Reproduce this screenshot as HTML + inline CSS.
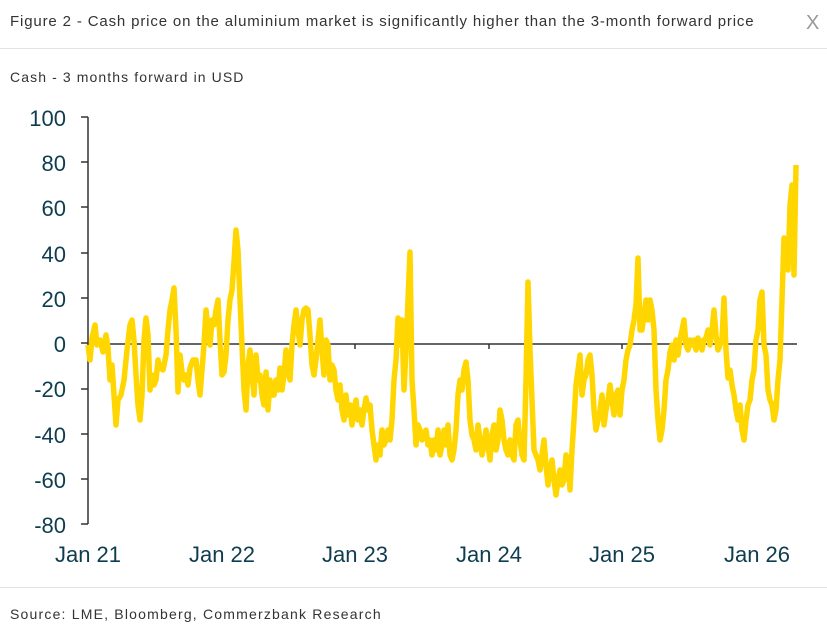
<!DOCTYPE html>
<html><head><meta charset="utf-8"><style>
body{margin:0;width:827px;height:640px;background:#fff;font-family:"Liberation Sans",sans-serif;overflow:hidden;position:relative}
.t{position:absolute;left:10px;top:13px;font-size:15px;color:#333;letter-spacing:0.85px}
.x{position:absolute;left:806px;top:12px;font-size:20px;color:#999}
.h1{position:absolute;left:0;top:48px;width:827px;height:1px;background:#e3e3e3}
.h2{position:absolute;left:0;top:587px;width:827px;height:1px;background:#e3e3e3}
.s{position:absolute;left:10px;top:69px;font-size:14px;color:#333;letter-spacing:1.1px}
.src{position:absolute;left:10px;top:606px;font-size:14px;color:#333;letter-spacing:1.2px}
</style></head><body>
<div class="t">Figure 2 - Cash price on the aluminium market is significantly higher than the 3-month forward price</div>
<div class="x">X</div>
<div class="h1"></div>
<div class="s">Cash - 3 months forward in USD</div>
<svg width="827" height="640" style="position:absolute;left:0;top:0">
<g font-family="Liberation Sans, sans-serif" font-size="22" fill="#0e3d4f" text-anchor="end">
<text x="66" y="126">100</text><text x="66" y="171">80</text><text x="66" y="216">60</text><text x="66" y="262">40</text><text x="66" y="307">20</text><text x="66" y="352">0</text><text x="66" y="397">-20</text><text x="66" y="443">-40</text><text x="66" y="488">-60</text><text x="66" y="533">-80</text>
</g>
<g font-family="Liberation Sans, sans-serif" font-size="22" fill="#0e3d4f" text-anchor="middle">
<text x="88" y="562">Jan 21</text><text x="222" y="562">Jan 22</text><text x="355" y="562">Jan 23</text><text x="489" y="562">Jan 24</text><text x="622" y="562">Jan 25</text><text x="757" y="562">Jan 26</text>
</g>
<g stroke="#333" stroke-width="1.5" fill="none">
<path d="M88,117V524"/>
<path d="M81,117h7M81,162h7M81,207h7M81,253h7M81,298h7M81,343h7M81,389h7M81,434h7M81,479h7M81,524h7"/>
<path d="M88,344H797"/>
<path d="M222,344v5M355,344v5M489,344v5M622,344v5M757,344v5"/>
</g>
<polyline fill="none" stroke="#ffd600" stroke-width="5.5" stroke-linejoin="round" points="88,345 90,360 92,338 95,325 97,345 100,340 103,352 106,335 108,348 110,380 112,365 114,395 116,425 118,400 121,395 124,380 127,350 130,325 132,320 134,340 136,375 138,405 140,420 142,395 144,340 146,318 148,335 150,390 152,375 154,385 156,380 158,360 160,368 163,370 166,355 168,330 170,310 172,300 174,288 176,330 178,392 180,355 182,372 184,380 186,375 188,385 190,368 193,360 196,360 198,380 200,395 202,370 204,345 206,310 208,330 210,345 212,320 214,325 216,310 218,300 220,340 222,375 224,372 226,355 228,320 230,300 232,290 234,262 236,230 238,250 240,300 242,345 244,390 246,410 248,365 250,350 252,375 254,395 256,355 258,380 260,375 262,395 264,405 266,372 268,410 270,380 272,395 274,395 276,380 278,390 280,368 282,390 284,375 286,350 288,370 290,380 292,345 294,325 296,310 298,330 300,345 302,320 304,310 306,308 308,310 310,335 312,365 314,375 316,360 318,340 320,320 322,350 324,375 326,340 328,345 330,380 332,365 334,370 336,390 338,400 340,385 342,410 344,420 346,395 348,415 350,405 352,425 354,410 356,400 358,420 360,410 362,425 364,410 366,398 368,410 370,405 372,430 374,445 376,460 378,445 380,455 382,430 384,445 386,440 388,430 390,440 392,420 394,380 396,360 398,318 400,345 402,320 404,390 406,350 408,300 410,252 412,380 414,410 416,445 418,425 420,430 422,440 424,435 426,430 428,445 430,440 432,455 434,440 436,450 438,430 440,455 442,445 444,430 446,445 448,425 450,455 452,460 454,450 456,430 458,395 460,380 462,390 464,370 466,362 468,380 470,420 472,435 474,440 476,450 478,425 480,440 482,455 484,445 486,430 488,445 490,460 492,435 494,425 496,450 498,440 500,410 502,420 504,440 506,450 508,455 510,440 512,455 514,460 516,425 518,420 520,440 522,455 524,460 526,380 528,282 530,350 532,400 534,450 536,455 538,460 540,470 542,455 544,440 546,465 548,485 550,470 552,460 554,480 556,495 558,480 560,470 562,485 564,480 566,455 568,460 570,490 572,450 574,420 576,385 578,370 580,355 582,395 584,380 586,375 588,360 590,355 592,375 594,410 596,430 598,420 600,410 602,395 604,425 606,410 608,400 610,385 612,400 614,415 616,395 618,390 620,415 622,390 624,380 626,360 628,350 630,345 632,330 634,320 636,305 638,258 640,330 642,330 644,315 646,300 648,320 650,300 652,310 654,330 656,390 658,420 660,440 662,430 664,410 666,380 668,370 670,352 672,345 674,360 676,340 678,355 680,340 682,330 684,320 686,345 688,350 690,340 692,345 694,340 696,350 698,338 700,342 702,350 704,340 706,338 708,330 710,345 712,330 714,310 716,335 718,350 720,345 722,340 724,298 726,350 728,378 730,370 732,385 734,395 736,410 738,420 740,405 742,430 744,440 746,420 748,405 750,400 752,380 754,370 756,340 758,330 760,300 762,292 764,345 766,355 768,390 770,400 772,405 774,420 776,410 778,380 780,360 782,300 784,238 786,250 788,270 790,205 792,185 794,275 796,165"/>
</svg>
<div class="h2"></div>
<div class="src">Source: LME, Bloomberg, Commerzbank Research</div>
</body></html>
